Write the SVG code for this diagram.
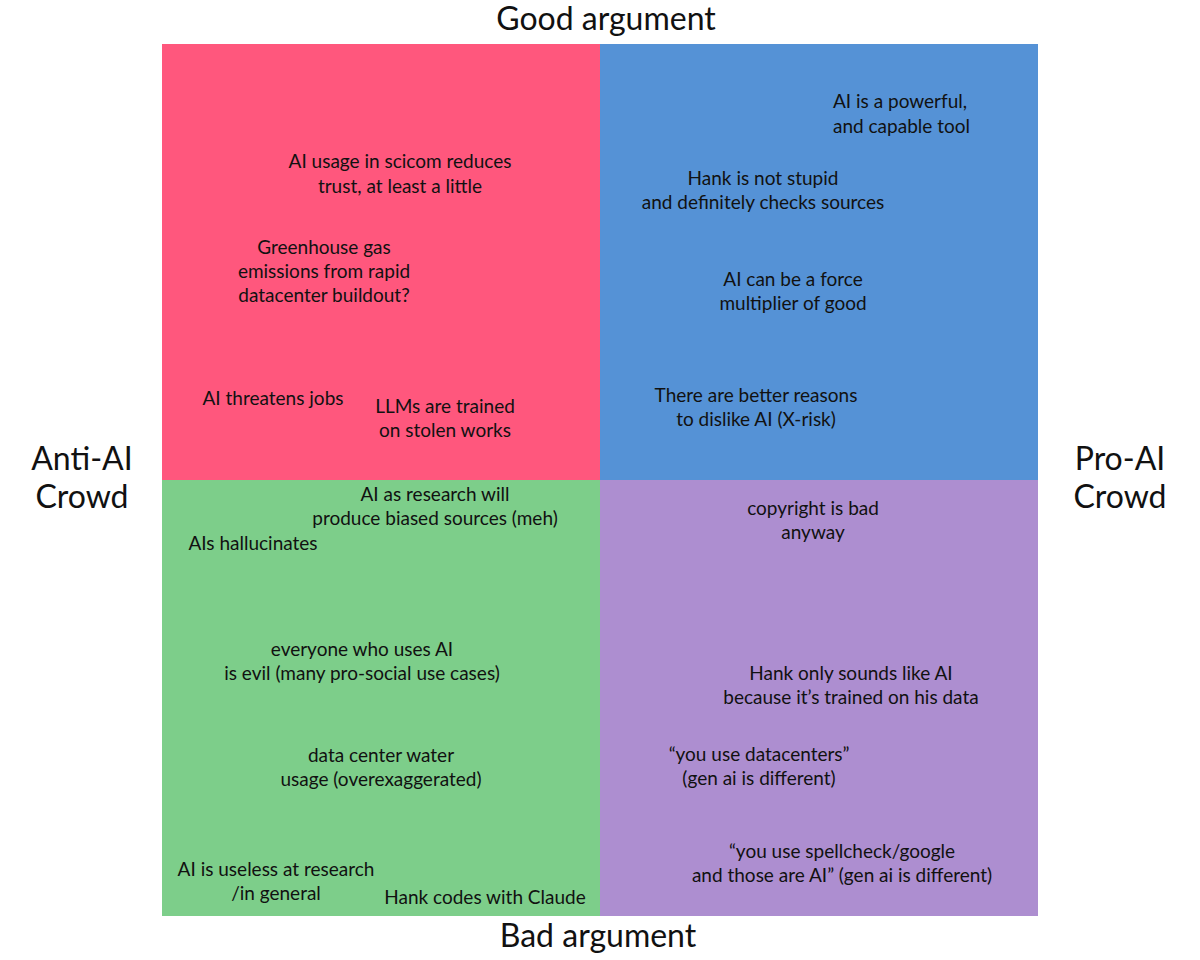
<svg xmlns="http://www.w3.org/2000/svg" width="1200" height="960" viewBox="0 0 1200 960">
<style>
text{font-family:Lato,"Open Sans","Liberation Sans",sans-serif;fill:#111;text-anchor:middle}
.t{font-size:19px}
.h{font-size:32px}
.l{text-anchor:start}
</style>
<rect width="1200" height="960" fill="#fff"/>
<g id="q-red"><rect x="162" y="44" width="438" height="436" fill="#FF577D"/></g>
<g id="q-blue"><rect x="600" y="44" width="438" height="436" fill="#5592D6"/></g>
<g id="q-green"><rect x="162" y="480" width="438" height="436" fill="#7DCE8A"/></g>
<g id="q-purple"><rect x="600" y="480" width="438" height="436" fill="#AD8ED0"/></g>
<g id="connectors"/>
<g id="axes">
<text class="h" x="606" y="30">Good argument</text>
<text class="h" x="598" y="947">Bad argument</text>
<text class="h" x="82" y="470">Anti-AI</text><text class="h" x="82" y="508">Crowd</text>
<text class="h" x="1120" y="470">Pro-AI</text><text class="h" x="1120" y="508">Crowd</text>
</g>
<g id="red-items" class="t">
<text class="t" x="400" y="168">AI usage in scicom reduces</text><text class="t" x="400" y="193">trust, at least a little</text>
<text class="t" x="324" y="254">Greenhouse gas</text><text class="t" x="324" y="278">emissions from rapid</text><text class="t" x="324" y="302">datacenter buildout?</text>
<text class="t" x="273" y="405">AI threatens jobs</text>
<text class="t" x="445" y="413">LLMs are trained</text><text class="t" x="445" y="437">on stolen works</text>
</g>
<g id="blue-items">
<text class="t l" x="833" y="108">AI is a powerful,</text><text class="t l" x="833" y="133">and capable tool</text>
<text class="t" x="763" y="185">Hank is not stupid</text><text class="t" x="763" y="209">and definitely checks sources</text>
<text class="t" x="793" y="286">AI can be a force</text><text class="t" x="793" y="310">multiplier of good</text>
<text class="t" x="756" y="402">There are better reasons</text><text class="t" x="756" y="426">to dislike AI (X-risk)</text>
</g>
<g id="green-items">
<text class="t" x="435" y="501">AI as research will</text><text class="t" x="435" y="525">produce biased sources (meh)</text>
<text class="t" x="253" y="550">AIs hallucinates</text>
<text class="t" x="362" y="656">everyone who uses AI</text><text class="t" x="362" y="680">is evil (many pro-social use cases)</text>
<text class="t" x="381" y="762">data center water</text><text class="t" x="381" y="786">usage (overexaggerated)</text>
<text class="t" x="276" y="876">AI is useless at research</text><text class="t" x="276" y="900">/in general</text>
<text class="t" x="485" y="904">Hank codes with Claude</text>
</g>
<g id="purple-items">
<text class="t" x="813" y="515">copyright is bad</text><text class="t" x="813" y="539">anyway</text>
<text class="t" x="851" y="680">Hank only sounds like AI</text><text class="t" x="851" y="704">because it’s trained on his data</text>
<text class="t" x="759" y="761">“you use datacenters”</text><text class="t" x="759" y="785">(gen ai is different)</text>
<text class="t" x="842" y="858">“you use spellcheck/google</text><text class="t" x="842" y="882">and those are AI” (gen ai is different)</text>
</g>
</svg>
